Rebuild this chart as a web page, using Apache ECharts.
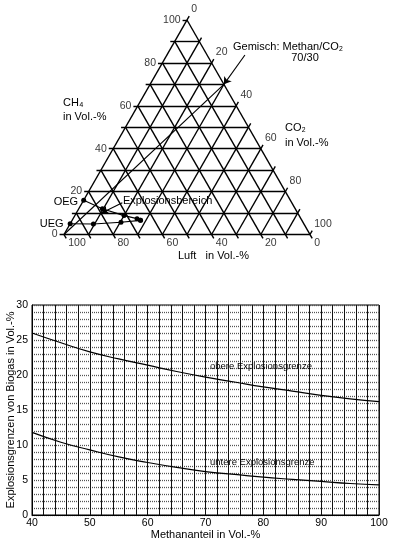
<!DOCTYPE html>
<html><head><meta charset="utf-8">
<script src="https://cdn.jsdelivr.net/npm/echarts@6/dist/echarts.min.js"></script>
<style>html,body{margin:0;padding:0;background:#fff}#c{width:398px;height:544px}</style>
</head><body><div id="c"></div>
<script>
// ---- Ternary diagram data (all values in Vol.-%, points given as [CH4, CO2]) ----
const ternaryGridValues = [0,10,20,30,40,50,60,70,80,90,100];
const ternaryTickLabels = [0,20,40,60,80,100];
const oegBoundary = [[16,0],[12,9.6],[8.8,20],[7.4,26],[6.6,27.8]];
const uegBoundary = [[5,0],[4.9,9.5],[5.7,20.3],[6.6,27.8]];
const airVertex = [0,0];
const mixture = [70,30];
const mixtureArrowFrom = [83.7,31.7];
const regionArrowFrom = [14.8,16.3];
const regionArrowTo = [10,10.3];

// ---- Explosion limits of biogas ----
const methaneShare = [40,45,50,55,60,65,70,75,80,85,90,95,100];
const upperLimit = [26.0,24.6,23.3,22.3,21.4,20.5,19.7,19.0,18.3,17.7,17.1,16.6,16.2];
const lowerLimit = [11.8,10.4,9.3,8.3,7.5,6.8,6.2,5.8,5.4,5.1,4.8,4.5,4.3];
const xTicks = [40,50,60,70,80,90,100];
const yTicks = [0,5,10,15,20,25,30];

const FONT = '"Liberation Sans", Arial, Helvetica, sans-serif';
const E = 1.8; // tick extension in %
const toXY = p => [p[1] + p[0] / 2, p[0]];

const gridLines = [];
ternaryGridValues.forEach(v => {
  gridLines.push({coords: [toXY([v, -E]), toXY([v, 100 - v])]});            // CH4 = v
  gridLines.push({coords: [toXY([0, v]), toXY([100 - v + E, v])]});          // CO2 = v
  gridLines.push({coords: [toXY([-E, 100 - v + E]), toXY([100 - v, 0])]});   // Luft = v
});

const lblStyle = {show: true, color: '#000', fontFamily: FONT, fontSize: 10.5, formatter: '{b}'};
const ch4Labels = ternaryTickLabels.map(v => ({name: String(v), value: toXY([v, -E])}));
const co2Labels = ternaryTickLabels.map(v => ({name: String(v), value: toXY([100 - v + E, v])}));
const airLabels = ternaryTickLabels.map(v => ({name: String(v), value: toXY([-E, 100 - v + E])}));

const chart = echarts.init(document.getElementById('c'), null, {renderer: 'canvas'});

const txt = (x, y, text, size, align) => ({
  type: 'text', x: x, y: y, z: 100,
  style: {text: text, fill: '#000', font: size + 'px ' + FONT,
          textAlign: align || 'left', textVerticalAlign: 'middle',
          align: align || 'left', verticalAlign: 'middle'}
});

chart.setOption({
  animation: false,
  backgroundColor: '#fff',
  grid: [
    {left: 64, top: 20, width: 246, height: 214.5, show: false, containLabel: false, outerBoundsMode: 'none'},
    {left: 32, top: 305, width: 347, height: 210, show: true, borderColor: '#000', borderWidth: 1,
     containLabel: false, outerBoundsMode: 'none'}
  ],
  xAxis: [
    {gridIndex: 0, type: 'value', min: 0, max: 100, show: false},
    {gridIndex: 1, type: 'value', min: 40, max: 100, interval: 10,
     name: 'Methananteil in Vol.-%', nameLocation: 'middle', nameGap: 14, nameMoveOverlap: false,
     nameTextStyle: {fontFamily: FONT, fontSize: 11, color: '#000'},
     axisLine: {show: true, lineStyle: {color: '#000', width: 1}},
     axisTick: {show: false},
     axisLabel: {color: '#000', fontFamily: FONT, fontSize: 10.5, margin: 3,
                 formatter: v => xTicks.includes(v) ? String(v) : ''},
     splitLine: {show: true, lineStyle: {color: '#111', width: 1}},
     minorTick: {show: false, splitNumber: 5},
     minorSplitLine: {show: true, lineStyle: {color: '#111', width: 1}}}
  ],
  yAxis: [
    {gridIndex: 0, type: 'value', min: 0, max: 100, show: false},
    {gridIndex: 1, type: 'value', min: 0, max: 30, interval: 5,
     name: 'Explosionsgrenzen von Biogas in Vol.-%', nameLocation: 'middle', nameGap: 16,
     nameMoveOverlap: false,
     nameTextStyle: {fontFamily: FONT, fontSize: 11, color: '#000'},
     axisLine: {show: true, lineStyle: {color: '#000', width: 1}},
     axisTick: {show: false},
     axisLabel: {color: '#000', fontFamily: FONT, fontSize: 10.5, margin: 4,
                 formatter: v => yTicks.includes(v) ? String(v) : ''},
     splitLine: {show: true, lineStyle: {color: '#555', width: 1.3, type: [1, 1]}},
     minorTick: {show: false, splitNumber: 5},
     minorSplitLine: {show: true, lineStyle: {color: '#555', width: 1.3, type: [1, 1]}}}
  ],
  series: [
    {type: 'lines', coordinateSystem: 'cartesian2d', xAxisIndex: 0, yAxisIndex: 0, clip: false,
     silent: true, data: gridLines, lineStyle: {color: '#000', width: 1.4, opacity: 1}},
    {type: 'line', xAxisIndex: 0, yAxisIndex: 0, clip: false, symbol: 'none',
     data: [toXY(airVertex), toXY(mixture)], lineStyle: {color: '#000', width: 1.1}},
    {type: 'lines', coordinateSystem: 'cartesian2d', xAxisIndex: 0, yAxisIndex: 0, clip: false,
     symbol: ['none', 'arrow'], symbolSize: 7,
     data: [{coords: [toXY(mixtureArrowFrom), toXY(mixture)]},
            {coords: [toXY(regionArrowFrom), toXY(regionArrowTo)]}],
     lineStyle: {color: '#000', width: 1.1, opacity: 1}, itemStyle: {color: '#000'}},
    {type: 'line', xAxisIndex: 0, yAxisIndex: 0, clip: false, symbol: 'circle', symbolSize: 5,
     data: oegBoundary.map((p, i) => i === 0
       ? {value: toXY(p), label: {show: true, position: 'left', distance: 3, formatter: 'OEG',
           color: '#000', fontFamily: FONT, fontSize: 11, offset: [0, 2]}}
       : toXY(p)),
     lineStyle: {color: '#000', width: 1.1}, itemStyle: {color: '#000'}},
    {type: 'line', xAxisIndex: 0, yAxisIndex: 0, clip: false, symbol: 'circle', symbolSize: 5,
     data: uegBoundary.map((p, i) => i === 0
       ? {value: toXY(p), label: {show: true, position: 'left', distance: 4, formatter: 'UEG',
           color: '#000', fontFamily: FONT, fontSize: 11}}
       : toXY(p)),
     lineStyle: {color: '#000', width: 1.1}, itemStyle: {color: '#000'}},
    {type: 'scatter', xAxisIndex: 0, yAxisIndex: 0, symbolSize: 0, silent: true, clip: false,
     data: ch4Labels, label: Object.assign({}, lblStyle, {position: 'left', distance: 2})},
    {type: 'scatter', xAxisIndex: 0, yAxisIndex: 0, symbolSize: 0, silent: true, clip: false,
     data: co2Labels, label: Object.assign({}, lblStyle, {position: 'right', distance: 2, offset: [0, -7]})},
    {type: 'scatter', xAxisIndex: 0, yAxisIndex: 0, symbolSize: 0, silent: true, clip: false,
     data: airLabels, label: Object.assign({}, lblStyle, {position: 'right', distance: 2, offset: [0, 5]})},
    {type: 'line', xAxisIndex: 1, yAxisIndex: 1, symbol: 'none', smooth: 0.5,
     data: methaneShare.map((x, i) => [x, upperLimit[i]]), lineStyle: {color: '#000', width: 1.2}},
    {type: 'line', xAxisIndex: 1, yAxisIndex: 1, symbol: 'none', smooth: 0.5,
     data: methaneShare.map((x, i) => [x, lowerLimit[i]]), lineStyle: {color: '#000', width: 1.2}}
  ],
  graphic: [
    txt(233, 47, 'Gemisch: Methan/CO\u2082', 11),
    txt(305, 58, '70/30', 11, 'center'),
    txt(63, 103, 'CH\u2084', 11),
    txt(63, 117, 'in Vol.-%', 11),
    txt(285, 128, 'CO\u2082', 11),
    txt(285, 143, 'in Vol.-%', 11),
    txt(178, 256, 'Luft   in Vol.-%', 11),
    txt(123, 201, 'Explosionsbereich', 11),
    txt(210, 366, 'obere Explosionsgrenze', 9.5),
    txt(210, 462, 'untere Explosionsgrenze', 9.5)
  ]
});
</script></body></html>
